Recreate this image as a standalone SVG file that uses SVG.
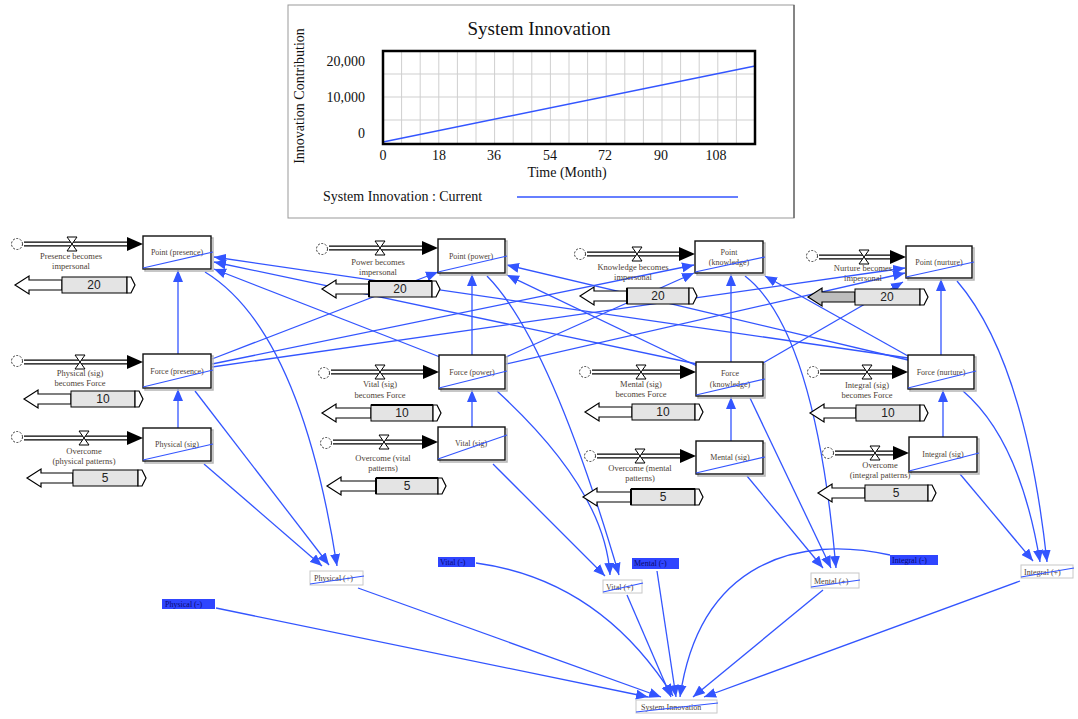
<svg xmlns="http://www.w3.org/2000/svg" width="1078" height="719" viewBox="0 0 1078 719">
<style>
.stk{fill:#fff;stroke:#111;stroke-width:1.4}
.shd{fill:none;stroke:#b5b5b5;stroke-width:1.5}
.st{font-family:"Liberation Serif",serif;font-size:8px;fill:#4d4236;text-anchor:middle}
.lb{font-family:"Liberation Serif",serif;font-size:8.5px;fill:#4d4236;text-anchor:middle}
.sp{stroke:#3355ff;stroke-width:1.2;fill:none}
.cn{stroke:#3355ff;stroke-width:1.3;fill:none;marker-end:url(#ab)}
.po{stroke:#000;stroke-width:5}
.pi{stroke:#fff;stroke-width:2.4}
.vl{fill:#fff;stroke:#000;stroke-width:1}
.cl{fill:none;stroke:#333;stroke-width:1;stroke-dasharray:2 1.5}
.sa{fill:#fff;stroke:#000;stroke-width:1.2}
.sb{fill:#e4e4e4;stroke:#000;stroke-width:1}
.sbg{fill:#bdbdbd;stroke:#000;stroke-width:1.2}
.stx{font-family:"Liberation Sans",Arial,sans-serif;font-size:12px;text-anchor:middle;fill:#222}
.ct{font-family:"Liberation Serif",serif;font-size:14px;fill:#111}
.gr{stroke:#cfcfcf;stroke-width:1}
.vb{fill:#fff;stroke:#c8c8c8;stroke-width:1}
.bl{fill:#2f45ff}
.blt{font-family:"Liberation Serif",serif;font-size:8px;fill:#0a0a70}
.vt{font-family:"Liberation Serif",serif;font-size:8px;fill:#4d4236}
</style>
<defs>
<marker id="ab" markerUnits="userSpaceOnUse" markerWidth="12" markerHeight="10" refX="12" refY="5" orient="auto"><path d="M0,0 L12,5 L0,10 z" fill="#3355ff"/></marker>
</defs>
<rect width="1078" height="719" fill="#fff"/>

<g id="chart">
<rect x="288" y="5" width="506" height="213" fill="#fff" stroke="#999" stroke-width="1"/>
<line x1="794" y1="5" x2="794" y2="218" stroke="#555" stroke-width="1.2"/>
<text x="539" y="35" font-family="Liberation Serif, serif" font-size="19" text-anchor="middle" fill="#111">System Innovation</text>
<g class="gr">
<line x1="401.6" y1="51" x2="401.6" y2="144"/><line x1="420.2" y1="51" x2="420.2" y2="144"/><line x1="438.8" y1="51" x2="438.8" y2="144"/><line x1="457.4" y1="51" x2="457.4" y2="144"/><line x1="476" y1="51" x2="476" y2="144"/><line x1="494.6" y1="51" x2="494.6" y2="144"/><line x1="513.2" y1="51" x2="513.2" y2="144"/><line x1="531.8" y1="51" x2="531.8" y2="144"/><line x1="550.4" y1="51" x2="550.4" y2="144"/><line x1="569" y1="51" x2="569" y2="144"/><line x1="587.6" y1="51" x2="587.6" y2="144"/><line x1="606.2" y1="51" x2="606.2" y2="144"/><line x1="624.8" y1="51" x2="624.8" y2="144"/><line x1="643.4" y1="51" x2="643.4" y2="144"/><line x1="662" y1="51" x2="662" y2="144"/><line x1="680.6" y1="51" x2="680.6" y2="144"/><line x1="699.2" y1="51" x2="699.2" y2="144"/><line x1="717.8" y1="51" x2="717.8" y2="144"/><line x1="736.4" y1="51" x2="736.4" y2="144"/>
<line x1="383" y1="74" x2="755" y2="74"/><line x1="383" y1="97" x2="755" y2="97"/><line x1="383" y1="120" x2="755" y2="120"/>
</g>
<line x1="383" y1="142" x2="755" y2="66" stroke="#3355ff" stroke-width="1.5"/>
<rect x="383" y="51" width="372" height="93" fill="none" stroke="#000" stroke-width="2.5"/>
<text class="ct" x="365" y="66" text-anchor="end">20,000</text>
<text class="ct" x="365" y="102" text-anchor="end">10,000</text>
<text class="ct" x="365" y="138" text-anchor="end">0</text>
<g class="ct" text-anchor="middle">
<text x="383" y="160">0</text><text x="439" y="160">18</text><text x="494" y="160">36</text><text x="550" y="160">54</text><text x="605" y="160">72</text><text x="661" y="160">90</text><text x="716" y="160">108</text>
</g>
<text class="ct" x="567" y="177" text-anchor="middle">Time (Month)</text>
<text class="ct" x="0" y="0" text-anchor="middle" transform="translate(304,96) rotate(-90)">Innovation Contribution</text>
<text class="ct" x="323" y="201">System Innovation : Current</text>
<line x1="517" y1="197" x2="738" y2="197" stroke="#3355ff" stroke-width="1.5"/>
</g>

<g id="connectors">
<line class="cn" x1="178" y1="354" x2="178" y2="270"/>
<line class="cn" x1="178" y1="428" x2="178" y2="389"/>
<line class="cn" x1="472" y1="355" x2="472" y2="274"/>
<line class="cn" x1="472" y1="427" x2="472" y2="390"/>
<line class="cn" x1="731" y1="362" x2="731" y2="274"/>
<line class="cn" x1="731" y1="441" x2="731" y2="397"/>
<line class="cn" x1="941" y1="355" x2="941" y2="279"/>
<line class="cn" x1="943" y1="437" x2="943" y2="390"/>
<line class="cn" x1="212" y1="359" x2="438" y2="272"/>
<line class="cn" x1="212" y1="364" x2="694" y2="265"/>
<line class="cn" x1="212" y1="367" x2="905" y2="268"/>
<line class="cn" x1="440" y1="357" x2="214" y2="269"/>
<line class="cn" x1="506" y1="357" x2="694" y2="273"/>
<line class="cn" x1="506" y1="364" x2="905" y2="273"/>
<line class="cn" x1="697" y1="364" x2="214" y2="262"/>
<line class="cn" x1="697" y1="366" x2="507" y2="275"/>
<line class="cn" x1="763" y1="363" x2="903" y2="282"/>
<line class="cn" x1="908" y1="358" x2="214" y2="257"/>
<line class="cn" x1="908" y1="360" x2="507" y2="265"/>
<line class="cn" x1="908" y1="356" x2="765" y2="276"/>
<path class="cn" d="M205,272 Q300,330 337,566"/>
<line class="cn" x1="195" y1="391" x2="329" y2="565"/>
<line class="cn" x1="204" y1="464" x2="322" y2="566"/>
<path class="cn" d="M487,276 Q550,340 619,575"/>
<path class="cn" d="M497,391 Q605,490 610,575"/>
<line class="cn" x1="493" y1="464" x2="605" y2="576"/>
<path class="cn" d="M745,276 Q815,330 836,568"/>
<line class="cn" x1="750" y1="398" x2="831" y2="568"/>
<line class="cn" x1="747" y1="476" x2="823" y2="568"/>
<path class="cn" d="M957,281 Q1025,360 1047,562"/>
<path class="cn" d="M963,391 Q1020,440 1040,562"/>
<line class="cn" x1="960" y1="474" x2="1033" y2="561"/>
<line class="cn" x1="216" y1="608" x2="648" y2="697"/>
<line class="cn" x1="358" y1="588" x2="661" y2="697"/>
<path class="cn" d="M476,563 Q600,580 673,696"/>
<line class="cn" x1="627" y1="595" x2="671" y2="697"/>
<line class="cn" x1="657" y1="571" x2="676" y2="697"/>
<path class="cn" d="M890,555 C800,535 700,560 680,697"/>
<line class="cn" x1="823" y1="590" x2="693" y2="697"/>
<line class="cn" x1="1020" y1="581" x2="704" y2="697"/>
</g>

<g id="point-presence"><rect class="shd" x="145" y="238" width="68" height="33"/><rect class="stk" x="143" y="236" width="68" height="33"/><text class="st" x="177" y="255">Point (presence)</text><line class="sp" x1="143" y1="268" x2="213" y2="252"/></g>
<g id="force-presence"><rect class="shd" x="145" y="356" width="68" height="34"/><rect class="stk" x="143" y="354" width="68" height="34"/><text class="st" x="177" y="374">Force (presence)</text><line class="sp" x1="143" y1="387" x2="213" y2="370"/></g>
<g id="physical-sig"><rect class="shd" x="145" y="430" width="68" height="33"/><rect class="stk" x="143" y="428" width="68" height="33"/><text class="st" x="177" y="447">Physical (sig)</text><line class="sp" x1="143" y1="460" x2="213" y2="444"/></g>
<g id="point-power"><rect class="shd" x="440" y="241" width="67" height="34"/><rect class="stk" x="438" y="239" width="67" height="34"/><text class="st" x="471" y="259">Point (power)</text><line class="sp" x1="438" y1="272" x2="507" y2="256"/></g>
<g id="force-power"><rect class="shd" x="441" y="357" width="66" height="34"/><rect class="stk" x="439" y="355" width="66" height="34"/><text class="st" x="472" y="375">Force (power)</text><line class="sp" x1="439" y1="388" x2="507" y2="371"/></g>
<g id="vital-sig"><rect class="shd" x="440" y="429" width="67" height="33"/><rect class="stk" x="438" y="427" width="67" height="33"/><text class="st" x="471" y="446">Vital (sig)</text><line class="sp" x1="438" y1="459" x2="507" y2="435"/></g>
<g id="point-knowledge"><rect class="shd" x="697" y="243" width="68" height="32"/><rect class="stk" x="695" y="241" width="68" height="32"/><text class="st" x="729" y="255">Point</text><text class="st" x="729" y="265">(knowledge)</text><line class="sp" x1="695" y1="272" x2="765" y2="257"/></g>
<g id="force-knowledge"><rect class="shd" x="698" y="364" width="67" height="34"/><rect class="stk" x="696" y="362" width="67" height="34"/><text class="st" x="730" y="376">Force</text><text class="st" x="730" y="387">(knowledge)</text><line class="sp" x1="696" y1="395" x2="765" y2="379"/></g>
<g id="mental-sig"><rect class="shd" x="698" y="443" width="67" height="33"/><rect class="stk" x="696" y="441" width="67" height="33"/><text class="st" x="730" y="460">Mental (sig)</text><line class="sp" x1="696" y1="473" x2="765" y2="457"/></g>
<g id="point-nurture"><rect class="shd" x="908" y="248" width="66" height="32"/><rect class="stk" x="906" y="246" width="66" height="32"/><text class="st" x="939" y="265">Point (nurture)</text><line class="sp" x1="906" y1="277" x2="974" y2="262"/></g>
<g id="force-nurture"><rect class="shd" x="910" y="357" width="66" height="34"/><rect class="stk" x="908" y="355" width="66" height="34"/><text class="st" x="941" y="375">Force (nurture)</text><line class="sp" x1="908" y1="388" x2="976" y2="371"/></g>
<g id="integral-sig"><rect class="shd" x="911" y="439" width="68" height="35"/><rect class="stk" x="909" y="437" width="68" height="35"/><text class="st" x="943" y="457">Integral (sig)</text><line class="sp" x1="909" y1="471" x2="979" y2="453"/></g>

<g id="flow-presence"><circle class="cl" cx="17" cy="244" r="5.5"/><line class="po" x1="24" y1="244" x2="128" y2="244"/><line class="pi" x1="24" y1="244" x2="128" y2="244"/><path d="M127,237 L143,244 L127,251 z"/><path class="vl" d="M67,237 H77 L72,244 L77,251 H67 L72,244 z"/><text class="lb" x="71" y="259">Presence becomes</text><text class="lb" x="71" y="269">impersonal</text></g>
<g id="flow-physical"><circle class="cl" cx="17" cy="361" r="5.5"/><line class="po" x1="24" y1="362" x2="128" y2="362"/><line class="pi" x1="24" y1="362" x2="128" y2="362"/><path d="M127,355 L143,362 L127,369 z"/><path class="vl" d="M75,355 H85 L80,362 L85,369 H75 L80,362 z"/><text class="lb" x="80" y="376">Physical (sig)</text><text class="lb" x="80" y="386">becomes Force</text></g>
<g id="flow-overcome-physical"><circle class="cl" cx="17" cy="437" r="5.5"/><line class="po" x1="24" y1="438" x2="128" y2="438"/><line class="pi" x1="24" y1="438" x2="128" y2="438"/><path d="M127,431 L143,438 L127,445 z"/><path class="vl" d="M79,431 H89 L84,438 L89,445 H79 L84,438 z"/><text class="lb" x="84" y="454">Overcome</text><text class="lb" x="84" y="464">(physical patterns)</text></g>
<g id="flow-power"><circle class="cl" cx="322" cy="249" r="5.5"/><line class="po" x1="329" y1="248" x2="423" y2="248"/><line class="pi" x1="329" y1="248" x2="423" y2="248"/><path d="M422,241 L438,248 L422,255 z"/><path class="vl" d="M375,241 H385 L380,248 L385,255 H375 L380,248 z"/><text class="lb" x="378" y="265">Power becomes</text><text class="lb" x="378" y="275">impersonal</text></g>
<g id="flow-vital"><circle class="cl" cx="324" cy="373" r="5.5"/><line class="po" x1="331" y1="372" x2="424" y2="372"/><line class="pi" x1="331" y1="372" x2="424" y2="372"/><path d="M423,365 L439,372 L423,379 z"/><path class="vl" d="M375,365 H385 L380,372 L385,379 H375 L380,372 z"/><text class="lb" x="380" y="387">Vital (sig)</text><text class="lb" x="380" y="398">becomes Force</text></g>
<g id="flow-overcome-vital"><circle class="cl" cx="326" cy="443" r="5.5"/><line class="po" x1="333" y1="442" x2="423" y2="442"/><line class="pi" x1="333" y1="442" x2="423" y2="442"/><path d="M422,435 L438,442 L422,449 z"/><path class="vl" d="M379,435 H389 L384,442 L389,449 H379 L384,442 z"/><text class="lb" x="383" y="461">Overcome (vital</text><text class="lb" x="383" y="471">patterns)</text></g>
<g id="flow-knowledge"><circle class="cl" cx="580" cy="254" r="5.5"/><line class="po" x1="587" y1="254" x2="680" y2="254"/><line class="pi" x1="587" y1="254" x2="680" y2="254"/><path d="M679,247 L695,254 L679,261 z"/><path class="vl" d="M632,247 H642 L637,254 L642,261 H632 L637,254 z"/><text class="lb" x="633" y="270">Knowledge becomes</text><text class="lb" x="633" y="280">impersonal</text></g>
<g id="flow-mental"><circle class="cl" cx="585" cy="372" r="5.5"/><line class="po" x1="592" y1="372" x2="681" y2="372"/><line class="pi" x1="592" y1="372" x2="681" y2="372"/><path d="M680,365 L696,372 L680,379 z"/><path class="vl" d="M636,365 H646 L641,372 L646,379 H636 L641,372 z"/><text class="lb" x="641" y="387">Mental (sig)</text><text class="lb" x="641" y="397">becomes Force</text></g>
<g id="flow-overcome-mental"><circle class="cl" cx="590" cy="456" r="5.5"/><line class="po" x1="597" y1="456" x2="681" y2="456"/><line class="pi" x1="597" y1="456" x2="681" y2="456"/><path d="M680,449 L696,456 L680,463 z"/><path class="vl" d="M635,449 H645 L640,456 L645,463 H635 L640,456 z"/><text class="lb" x="640" y="471">Overcome (mental</text><text class="lb" x="640" y="481">patterns)</text></g>
<g id="flow-nurture"><circle class="cl" cx="812" cy="256" r="5.5"/><line class="po" x1="819" y1="257" x2="891" y2="257"/><line class="pi" x1="819" y1="257" x2="891" y2="257"/><path d="M890,250 L906,257 L890,264 z"/><path class="vl" d="M859,250 H869 L864,257 L869,264 H859 L864,257 z"/><text class="lb" x="863" y="271">Nurture becomes</text><text class="lb" x="863" y="281">impersonal</text></g>
<g id="flow-integral"><circle class="cl" cx="813" cy="372" r="5.5"/><line class="po" x1="820" y1="372" x2="893" y2="372"/><line class="pi" x1="820" y1="372" x2="893" y2="372"/><path d="M892,365 L908,372 L892,379 z"/><path class="vl" d="M862,365 H872 L867,372 L872,379 H862 L867,372 z"/><text class="lb" x="867" y="388">Integral (sig)</text><text class="lb" x="867" y="398">becomes Force</text></g>
<g id="flow-overcome-integral"><circle class="cl" cx="828" cy="453" r="5.5"/><line class="po" x1="835" y1="453" x2="894" y2="453"/><line class="pi" x1="835" y1="453" x2="894" y2="453"/><path d="M893,446 L909,453 L893,460 z"/><path class="vl" d="M870,446 H880 L875,453 L880,460 H870 L875,453 z"/><text class="lb" x="880" y="468">Overcome</text><text class="lb" x="880" y="478">(integral patterns)</text></g>

<g id="slider-presence-20"><path class="sa" d="M15,285 L29,276 V280 H62 V290 H29 V294 z"/><rect class="sb" x="62" y="277" width="65" height="16"/><path class="sa" d="M127,277 H131 L135,285 L131,293 H127 z"/><text class="stx" x="94" y="289">20</text></g>
<g id="slider-physical-10"><path class="sa" d="M24,399 L38,390 V394 H71 V404 H38 V408 z"/><rect class="sb" x="71" y="391" width="64" height="16"/><path class="sa" d="M135,391 H139 L143,399 L139,407 H135 z"/><text class="stx" x="103" y="403">10</text></g>
<g id="slider-ophys-5"><path class="sa" d="M27,478 L41,469 V473 H73 V483 H41 V487 z"/><rect class="sb" x="73" y="470" width="65" height="16"/><path class="sa" d="M138,470 H142 L146,478 L142,486 H138 z"/><text class="stx" x="105" y="482">5</text></g>
<g id="slider-power-20"><path class="sa" d="M322,289 L336,280 V284 H369 V294 H336 V298 z"/><rect class="sb" x="369" y="281" width="63" height="16"/><line x1="369" y1="281" x2="432" y2="281" stroke="#000" stroke-width="2"/><line x1="369" y1="281" x2="369" y2="297" stroke="#000" stroke-width="2"/><path class="sa" d="M432,281 H436 L440,289 L436,297 H432 z"/><text class="stx" x="400" y="293">20</text></g>
<g id="slider-vital-10"><path class="sa" d="M322,413 L336,404 V408 H371 V418 H336 V422 z"/><rect class="sb" x="371" y="405" width="62" height="16"/><line x1="371" y1="405" x2="433" y2="405" stroke="#000" stroke-width="2"/><path class="sa" d="M433,405 H437 L441,413 L437,421 H433 z"/><text class="stx" x="402" y="417">10</text></g>
<g id="slider-ovital-5"><path class="sa" d="M327,486 L341,477 V481 H376 V491 H341 V495 z"/><rect class="sb" x="376" y="478" width="62" height="16"/><line x1="376" y1="478" x2="438" y2="478" stroke="#000" stroke-width="2"/><line x1="376" y1="478" x2="376" y2="494" stroke="#000" stroke-width="2"/><path class="sa" d="M438,478 H442 L446,486 L442,494 H438 z"/><text class="stx" x="407" y="490">5</text></g>
<g id="slider-knowledge-20"><path class="sa" d="M580,296 L594,287 V291 H627 V301 H594 V305 z"/><rect class="sb" x="627" y="288" width="62" height="16"/><line x1="627" y1="288" x2="627" y2="304" stroke="#000" stroke-width="2"/><path class="sa" d="M689,288 H693 L697,296 L693,304 H689 z"/><text class="stx" x="658" y="300">20</text></g>
<g id="slider-mental-10"><path class="sa" d="M585,412 L599,403 V407 H632 V417 H599 V421 z"/><rect class="sb" x="632" y="404" width="63" height="16"/><path class="sa" d="M695,404 H699 L703,412 L699,420 H695 z"/><text class="stx" x="663" y="416">10</text></g>
<g id="slider-omental-5"><path class="sa" d="M583,497 L597,488 V492 H631 V502 H597 V506 z"/><rect class="sb" x="631" y="489" width="64" height="16"/><line x1="631" y1="489" x2="695" y2="489" stroke="#000" stroke-width="2"/><line x1="631" y1="489" x2="631" y2="505" stroke="#000" stroke-width="2"/><path class="sa" d="M695,489 H699 L703,497 L699,505 H695 z"/><text class="stx" x="663" y="501">5</text></g>
<g id="slider-nurture-20"><path class="sbg" d="M808,297 L822,288 V292 H855 V302 H822 V306 z"/><rect class="sb" x="855" y="289" width="65" height="16"/><path class="sa" d="M920,289 H924 L928,297 L924,305 H920 z"/><text class="stx" x="887" y="301">20</text></g>
<g id="slider-integral-10"><path class="sa" d="M810,413 L824,404 V408 H856 V418 H824 V422 z"/><rect class="sb" x="856" y="405" width="64" height="16"/><path class="sa" d="M920,405 H924 L928,413 L924,421 H920 z"/><text class="stx" x="888" y="417">10</text></g>
<g id="slider-ointegral-5"><path class="sa" d="M818,493 L832,484 V488 H865 V498 H832 V502 z"/><rect class="sb" x="865" y="485" width="63" height="16"/><path class="sa" d="M928,485 H932 L936,493 L932,501 H928 z"/><text class="stx" x="896" y="497">5</text></g>

<g id="physical-plus"><rect class="vb" x="310" y="571" width="53" height="14"/><text class="vt" x="314" y="581">Physical (+)</text><line class="sp" x1="310" y1="584" x2="364" y2="576"/></g>
<g id="vital-plus"><rect class="vb" x="603" y="580" width="39" height="13"/><text class="vt" x="606" y="590">Vital (+)</text><line class="sp" x1="603" y1="592" x2="643" y2="583"/></g>
<g id="mental-plus"><rect class="vb" x="811" y="573" width="48" height="15"/><text class="vt" x="814" y="584">Mental (+)</text><line class="sp" x1="811" y1="587" x2="860" y2="580"/></g>
<g id="integral-plus"><rect class="vb" x="1021" y="565" width="52" height="13"/><text class="vt" x="1024" y="575">Integral (+)</text><line class="sp" x1="1021" y1="577" x2="1074" y2="568"/></g>
<g id="system-innovation"><rect class="vb" x="636" y="700" width="81" height="13"/><text class="vt" x="641" y="710">System Innovation</text><line class="sp" x1="636" y1="712" x2="718" y2="703"/></g>
<g id="physical-minus"><rect class="bl" x="162" y="599" width="53" height="10"/><text class="blt" x="165" y="607">Physical (-)</text></g>
<g id="vital-minus"><rect class="bl" x="438" y="557" width="37" height="10"/><text class="blt" x="440" y="565">Vital (-)</text></g>
<g id="mental-minus"><rect class="bl" x="632" y="558" width="47" height="11"/><text class="blt" x="634" y="566">Mental (-)</text></g>
<g id="integral-minus"><rect class="bl" x="890" y="555" width="48" height="10"/><text class="blt" x="892" y="563">Integral (-)</text></g>
</svg>
